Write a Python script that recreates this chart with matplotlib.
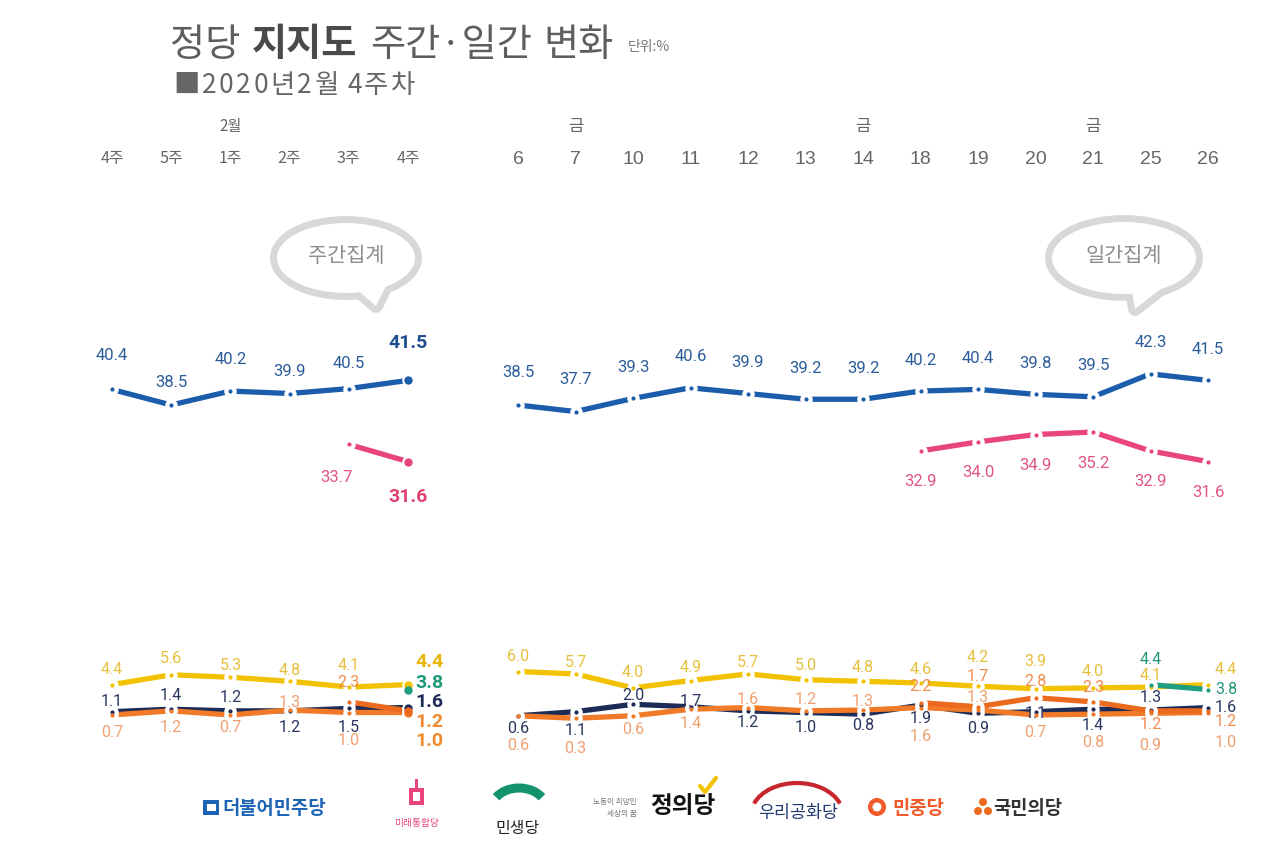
import matplotlib
matplotlib.use('Agg')
import matplotlib.pyplot as plt
from matplotlib.patches import Ellipse, Polygon, Rectangle, Arc, Circle
from matplotlib.transforms import blended_transform_factory

plt.rcParams['font.family'] = ['Noto Sans CJK KR', 'DejaVu Sans']

# ---------------- data ----------------
week_labels = ['4주', '5주', '1주', '2주', '3주', '4주']
week_month_label = '2월'
week_month_idx = 2
day_labels = ['6', '7', '10', '11', '12', '13', '14', '18', '19', '20', '21', '25', '26']
fri_idx = [1, 6, 10]
fri_label = '금'

w_minju = [40.4, 38.5, 40.2, 39.9, 40.5, 41.5]
w_tonghap = [None, None, None, None, 33.7, 31.6]
w_justice = [4.4, 5.6, 5.3, 4.8, 4.1, 4.4]
w_minsaeng = [None, None, None, None, None, 3.8]
w_woori = [1.1, 1.4, 1.2, 1.2, 1.5, 1.6]
w_minjung = [0.7, 1.2, 0.7, 1.3, 1.0, 1.0]
w_kukmin = [None, None, None, None, 2.3, 1.2]

d_minju = [38.5, 37.7, 39.3, 40.6, 39.9, 39.2, 39.2, 40.2, 40.4, 39.8, 39.5, 42.3, 41.5]
d_tonghap = [None] * 7 + [32.9, 34.0, 34.9, 35.2, 32.9, 31.6]
d_justice = [6.0, 5.7, 4.0, 4.9, 5.7, 5.0, 4.8, 4.6, 4.2, 3.9, 4.0, 4.1, 4.4]
d_minsaeng = [None] * 11 + [4.4, 3.8]
d_woori = [0.6, 1.1, 2.0, 1.7, 1.2, 1.0, 0.8, 1.9, 0.9, 1.1, 1.4, 1.3, 1.6]
d_minjung = [0.6, 0.3, 0.6, 1.4, 1.6, 1.2, 1.3, 1.6, 1.3, 0.7, 0.8, 0.9, 1.0]
d_kukmin = [None] * 7 + [2.2, 1.7, 2.8, 2.3, 1.2, 1.2]

# ---------------- label placement (pixels, + = down) ----------------
w_minju_dy = [-34, -23, -32, -22, -25, -37]
w_tonghap_dy = [None, None, None, None, 33, 35]
w_tonghap_dx = [0, 0, 0, 0, -12, 0]
w_justice_dy = [-15, -16, -12, -11, -22, -23]
w_minsaeng_dy = [None] * 5 + [-7]
w_woori_dy = [-10, -14, -13, 17, 19, -6]
w_minjung_dy = [18, 17, 13, -8, 28, 28]
w_kukmin_dy = [None] * 4 + [-19, 11]

d_minju_dy = [-33, -32] + [-31] * 11
d_tonghap_dy = [None] * 7 + [31] * 6
d_justice_dy = [-15, -11, -15, -13, -11, -14, -14, -13, -29, -27, -16, -12, -15]
d_minsaeng_dy = [None] * 11 + [-25, 0]
d_woori_dy = [13, 19, -9, -5, 12, 15, 11, 13, 15, 2, 16, -13, 0]
d_minjung_dy = [30, 30, 14, 14, -8, -11, -9, 29, -13, 18, 28, 32, 30]
d_kukmin_dy = [None] * 7 + [-16, -30, -16, -14, 14, 11]

# colours
C_MINJU, L_MINJU = '#1B5DAA', '#2B5C9A'
C_TONG, L_TONG = '#E8457A', '#E0557F'
C_JUST, L_JUST = '#F2C200', '#E6C03A'
C_MINS, L_MINS = '#1E9E82', '#23957A'
C_WOORI, L_WOORI = '#1D2B57', '#2A3560'
C_MJ, L_MJ = '#F07A28', '#F0A070'
C_KM, L_KM = '#EC6A1E', '#F08C50'

NUMFONT = ['Roboto', 'DejaVu Sans']

W, H = 1275, 842
fig = plt.figure(figsize=(W / 100, H / 100), dpi=100)
fig.patch.set_facecolor('white')

ax0 = fig.add_axes([0, 0, 1, 1])
ax0.set_xlim(0, W)
ax0.set_ylim(H, 0)
ax0.axis('off')

# chart axes (shared value scale)
YTOP_PX, YBOT_PX = 300, 760
def v_at(px):
    return (720.7 - px) / 8.2
ymin, ymax = v_at(YBOT_PX), v_at(YTOP_PX)
bottom = (H - YBOT_PX) / H
height = (YBOT_PX - YTOP_PX) / H

axL = fig.add_axes([82.4 / W, bottom, 355.2 / W, height])
axL.set_xlim(-0.5, 5.5)
axR = fig.add_axes([489.25 / W, bottom, 747.5 / W, height])
axR.set_xlim(-0.5, 12.5)
for a in (axL, axR):
    a.set_ylim(ymin, ymax)
    a.axis('off')


def pts(vals):
    xs = [i for i, v in enumerate(vals) if v is not None]
    ys = [v for v in vals if v is not None]
    return xs, ys


def draw_lines(ax, series):
    for vals, col in series:
        xs, ys = pts(vals)
        ax.plot(xs, ys, color=col, lw=3.8, solid_capstyle='butt', zorder=2)
    for vals, col in series:
        xs, ys = pts(vals)
        ax.plot(xs, ys, 'o', ms=9, mfc='white', mec='none', zorder=3)
    for vals, col in series:
        xs, ys = pts(vals)
        ax.plot(xs, ys, 'o', ms=3, mfc=col, mec='none', zorder=4)


def label(ax, x, v, color, dy, dx=0, ha='center', size=11.5, weight='normal'):
    ax.annotate(f'{v:.1f}', (x, v), xytext=(dx * 0.72, -dy * 0.72),
                textcoords='offset points', ha=ha, va='center', color=color,
                fontsize=size, fontweight=weight, family=NUMFONT, zorder=6)


# ---------------- weekly panel ----------------
draw_lines(axL, [(w_justice, C_JUST), (w_woori, C_WOORI), (w_minjung, C_MJ),
                 (w_kukmin, C_KM), (w_minsaeng, C_MINS), (w_minju, C_MINJU), (w_tonghap, C_TONG)])
last = len(w_minju) - 1
for vals, col in [(w_minju, C_MINJU), (w_tonghap, C_TONG), (w_justice, C_JUST),
                  (w_minsaeng, C_MINS), (w_woori, C_WOORI), (w_minjung, C_MJ), (w_kukmin, C_KM)]:
    axL.plot([last], [vals[last]], 'o', ms=6, mfc=col, mec='none', zorder=5)

for i, v in enumerate(w_minju):
    if i == last:
        label(axL, i, v, '#1F4F8F', w_minju_dy[i], size=14, weight='bold')
    else:
        label(axL, i, v, L_MINJU, w_minju_dy[i], size=12)
for i, v in enumerate(w_tonghap):
    if v is None:
        continue
    if i == last:
        label(axL, i, v, '#E0406F', w_tonghap_dy[i], size=14, weight='bold')
    else:
        label(axL, i, v, L_TONG, w_tonghap_dy[i], dx=w_tonghap_dx[i], size=12)

small_w = [(w_justice, w_justice_dy, L_JUST, '#E9B500'),
           (w_minsaeng, w_minsaeng_dy, L_MINS, '#1E9A7A'),
           (w_woori, w_woori_dy, L_WOORI, '#1D2B57'),
           (w_minjung, w_minjung_dy, L_MJ, '#EE8C2C'),
           (w_kukmin, w_kukmin_dy, L_KM, '#EF8A2E')]
for vals, dys, lc, bc in small_w:
    for i, v in enumerate(vals):
        if v is None:
            continue
        if i == last:
            label(axL, i, v, bc, dys[i], dx=7, ha='left', size=14, weight='bold')
        else:
            label(axL, i, v, lc, dys[i])

# ---------------- daily panel ----------------
draw_lines(axR, [(d_justice, C_JUST), (d_woori, C_WOORI), (d_minjung, C_MJ),
                 (d_kukmin, C_KM), (d_minsaeng, C_MINS), (d_minju, C_MINJU), (d_tonghap, C_TONG)])
lastd = len(d_minju) - 1
for i, v in enumerate(d_minju):
    label(axR, i, v, L_MINJU, d_minju_dy[i], size=12)
for i, v in enumerate(d_tonghap):
    if v is not None:
        label(axR, i, v, L_TONG, d_tonghap_dy[i], size=12)
small_d = [(d_justice, d_justice_dy, L_JUST), (d_minsaeng, d_minsaeng_dy, L_MINS),
           (d_woori, d_woori_dy, L_WOORI), (d_minjung, d_minjung_dy, L_MJ),
           (d_kukmin, d_kukmin_dy, L_KM)]
for vals, dys, lc in small_d:
    for i, v in enumerate(vals):
        if v is None:
            continue
        if i == lastd:
            label(axR, i, v, lc, dys[i], dx=7, ha='left')
        else:
            label(axR, i, v, lc, dys[i])

# ---------------- header labels ----------------
trL = blended_transform_factory(axL.transData, ax0.transData)
trR = blended_transform_factory(axR.transData, ax0.transData)
for i, t in enumerate(week_labels):
    ax0.text(i, 158, t, transform=trL, ha='center', va='center', fontsize=11.5, color='#666666')
ax0.text(week_month_idx, 126, week_month_label, transform=trL, ha='center', va='center',
         fontsize=11, color='#666666')
for i, t in enumerate(day_labels):
    ax0.text(i, 160, t, transform=trR, ha='center', va='center', fontsize=14,
             color='#666666', family=['Liberation Sans', 'DejaVu Sans'])
for i in fri_idx:
    ax0.text(i, 126, fri_label, transform=trR, ha='center', va='center', fontsize=12, color='#666666')

# ---------------- title ----------------
r = fig.canvas.get_renderer()
x = 170
for txt, wt, col in [('정당', 'normal', '#5E5E5E'), ('지지도', 'bold', '#4A4A4A'),
                     ('주간·일간', 'normal', '#5E5E5E'), ('변화', 'normal', '#5E5E5E')]:
    t = ax0.text(x, 56, txt, fontsize=27.5, fontweight=wt, color=col, va='baseline', ha='left')
    bb = t.get_window_extent(r)
    x = bb.x1 + 12
ax0.text(x + 2, 51, '단위:%', fontsize=10, color='#777777', va='baseline', ha='left')

x = 173
for ch in '■2020년2월 4주차':
    if ch == ' ':
        x += 6
        continue
    t = ax0.text(x, 93, ch, fontsize=19, color='#666666', va='baseline', ha='left',
                 fontweight='medium')
    bb = t.get_window_extent(r)
    x = bb.x1 + 2.5

# ---------------- speech bubbles ----------------
def bubble(cx, cy, w, h, tail, text):
    tri = [(cx + w * 0.05, cy + h * 0.40), (cx + w * 0.30, cy + h * 0.36), tail]
    edge = '#D8D8D8'
    ax0.add_patch(Ellipse((cx, cy), w, h, facecolor=edge, edgecolor=edge, lw=10, zorder=1))
    ax0.add_patch(Polygon(tri, closed=True, facecolor=edge, edgecolor=edge, lw=10, zorder=1,
                          joinstyle='round'))
    ax0.add_patch(Ellipse((cx, cy), w, h, facecolor='white', edgecolor='none', zorder=1.2))
    ax0.add_patch(Polygon(tri, closed=True, facecolor='white', edgecolor='none', zorder=1.2))
    ax0.text(cx, cy - 2, text, ha='center', va='center', fontsize=15, color='#8E8E8E', zorder=1.5)

bubble(346, 258, 138, 70, (376, 306), '주간집계')
bubble(1124, 258, 144, 72, (1135, 309), '일간집계')

# ---------------- party legend ----------------
LY = 808
ax0.add_patch(Rectangle((203, 800), 16, 15, facecolor='#1E64B4', edgecolor='none'))
ax0.add_patch(Rectangle((207, 804), 9, 7, facecolor='white', edgecolor='none'))
ax0.text(222, LY, '더불어민주당', fontsize=13.5, fontweight='bold', color='#1E64B4', va='center', ha='left')

ax0.add_patch(Rectangle((409, 788), 15, 17, facecolor='#E8457A', edgecolor='none'))
ax0.add_patch(Rectangle((413, 792), 7, 9, facecolor='white', edgecolor='none'))
ax0.add_patch(Rectangle((415, 779), 3, 9, facecolor='#E8457A', edgecolor='none'))
ax0.text(417, 823, '미래통합당', fontsize=7, color='#E8457A', va='center', ha='center')

ax0.add_patch(Arc((519, 808), 54, 40, theta1=205, theta2=335, color='#13936B', lw=6.5))
ax0.text(518, 828, '민생당', fontsize=11.5, color='#222222', va='center', ha='center')

ax0.text(615, 802, '노동이 희망인', fontsize=5.5, color='#777777', va='center', ha='center')
ax0.text(622, 814, '세상의 꿈', fontsize=5.5, color='#777777', va='center', ha='center')
ax0.text(650, 806, '정의당', fontsize=17, fontweight='bold', color='#111111', va='center', ha='left')
ax0.plot([700, 705, 716], [786, 792, 778], color='#F2C200', lw=3, solid_capstyle='round')

ax0.add_patch(Arc((797, 815), 92, 64, theta1=195, theta2=345, color='#C8252D', lw=3))
ax0.text(798, 813, '우리공화당', fontsize=12.5, color='#1F3A6E', va='center', ha='center')

ax0.add_patch(Circle((877, 807), 9, facecolor='#F05A28', edgecolor='none'))
ax0.add_patch(Circle((877, 807), 4.5, facecolor='white', edgecolor='none'))
ax0.text(892, LY, '민중당', fontsize=13.5, fontweight='bold', color='#F05A28', va='center', ha='left')

for (cx, cy) in [(983, 802), (978, 811), (988, 811)]:
    ax0.add_patch(Circle((cx, cy), 4, facecolor='#EC6A1E', edgecolor='none'))
ax0.text(993, LY, '국민의당', fontsize=13.5, fontweight='bold', color='#333333', va='center', ha='left')

fig.savefig('out.png', dpi=100, facecolor='white')
